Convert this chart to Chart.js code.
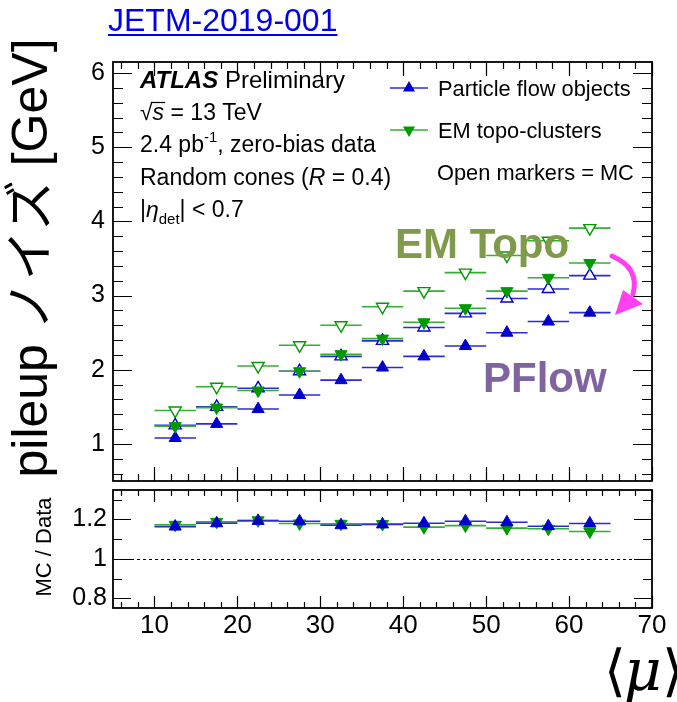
<!DOCTYPE html>
<html>
<head>
<meta charset="utf-8">
<script src="https://cdn.jsdelivr.net/npm/chart.js@4.4.1/dist/chart.umd.min.js"></script>
<style>
  body { margin: 0; background: #fff; }
  #wrap { position: relative; width: 677px; height: 702px; overflow: hidden; }
  canvas { position: absolute; left: 0; }
  #main { top: 0; }
  #ratio { top: 484px; }
</style>
</head>
<body>
<div id="wrap">
  <canvas id="main" width="677" height="484"></canvas>
  <canvas id="ratio" width="677" height="218"></canvas>
</div>
<script>
// <mu> bins
const binCenters = [12.5, 17.5, 22.5, 27.5, 32.5, 37.5, 42.5, 47.5, 52.5, 57.5, 62.5];
const binHalfWidth = 2.5;

// random-cone pileup noise [GeV]
const pflowData = [1.08, 1.27, 1.47, 1.66, 1.86, 2.03, 2.18, 2.32, 2.50, 2.65, 2.77];
const pflowMC   = [1.25, 1.50, 1.75, 1.98, 2.18, 2.39, 2.57, 2.76, 2.96, 3.09, 3.27];
const topoData  = [1.24, 1.49, 1.72, 1.98, 2.21, 2.42, 2.64, 2.83, 3.06, 3.24, 3.44];
const topoMC    = [1.45, 1.77, 2.05, 2.33, 2.60, 2.85, 3.06, 3.31, 3.54, 3.74, 3.91];

// MC / Data
const pflowRatio = [1.164, 1.181, 1.193, 1.191, 1.171, 1.175, 1.181, 1.191, 1.186, 1.166, 1.180];
const topoRatio  = [1.173, 1.188, 1.196, 1.180, 1.178, 1.177, 1.161, 1.169, 1.156, 1.153, 1.139];

const xTicks = [10, 20, 30, 40, 50, 60, 70];
const yTicks = [1, 2, 3, 4, 5, 6];
const ratioTicks = [0.8, 1, 1.2];
const ratioTickLabels = ['0.8', '1', '1.2'];

const SANS = '"Liberation Sans", Arial, Helvetica, sans-serif';
const BLUE = '#0000cc';
const GREEN = '#009a00';
const BLUE_BIN = '#2b2bd6';
const GREEN_BIN = '#33b033';

function points(ys) {
  return binCenters.map(function(x, i) { return { x: x, y: ys[i] }; });
}

function series(label, ys, color, binColor, down, open) {
  return {
    label: label,
    data: points(ys),
    showLine: false,
    pointStyle: 'triangle',
    pointRotation: down ? 180 : 0,
    pointRadius: 7,
    pointHoverRadius: 7,
    pointBackgroundColor: open ? '#ffffff' : color,
    pointBorderColor: color,
    pointBorderWidth: open ? 1.4 : 1,
    binColor: binColor
  };
}

// horizontal bar across each bin
const binLines = {
  id: 'binLines',
  beforeDatasetsDraw(chart) {
    const ctx = chart.ctx;
    const xs = chart.scales.x, ys = chart.scales.y;
    const sets = chart.data.datasets;
    for (let i = sets.length - 1; i >= 0; i--) {
      const ds = sets[i];
      ctx.save();
      ctx.strokeStyle = ds.binColor;
      ctx.lineWidth = 1.6;
      ds.data.forEach(function(p) {
        const y = ys.getPixelForValue(p.y);
        ctx.beginPath();
        ctx.moveTo(xs.getPixelForValue(p.x - binHalfWidth), y);
        ctx.lineTo(xs.getPixelForValue(p.x + binHalfWidth), y);
        ctx.stroke();
      });
      ctx.restore();
    }
  }
};

function isMajor(v, step) {
  return Math.abs(v / step - Math.round(v / step)) < 1e-6;
}

// ROOT style frame with inward ticks on all four sides
const frame = {
  id: 'frame',
  afterDatasetsDraw(chart, args, o) {
    const ctx = chart.ctx, a = chart.chartArea;
    const xs = chart.scales.x, ys = chart.scales.y;
    ctx.save();
    ctx.strokeStyle = '#000';
    ctx.lineWidth = 1.2;
    ctx.beginPath();
    for (let k = Math.ceil(xs.min / o.xMinor - 1e-6); k * o.xMinor <= xs.max + 1e-6; k++) {
      const v = k * o.xMinor;
      const len = isMajor(v, o.xMajor) ? o.xMajorLen : o.xMinorLen;
      const px = Math.round(xs.getPixelForValue(v)) + 0.5;
      ctx.moveTo(px, a.bottom); ctx.lineTo(px, a.bottom - len);
      ctx.moveTo(px, a.top); ctx.lineTo(px, a.top + len);
    }
    for (let k = Math.ceil(ys.min / o.yMinor - 1e-6); k * o.yMinor <= ys.max + 1e-6; k++) {
      const v = k * o.yMinor;
      const len = isMajor(v, o.yMajor) ? o.yMajorLen : o.yMinorLen;
      const py = Math.round(ys.getPixelForValue(v)) + 0.5;
      ctx.moveTo(a.left, py); ctx.lineTo(a.left + len, py);
      ctx.moveTo(a.right, py); ctx.lineTo(a.right - len, py);
    }
    ctx.stroke();
    ctx.lineWidth = 1.8;
    ctx.strokeRect(a.left, a.top, a.right - a.left, a.bottom - a.top);
    ctx.restore();
  }
};

function runs(ctx, x, y, parts) {
  parts.forEach(function(p) {
    ctx.font = p.font;
    ctx.fillText(p.t, x, y + (p.dy || 0));
    x += ctx.measureText(p.t).width;
  });
  return x;
}

function tri(ctx, x, y, r, down, color) {
  const s = down ? -1 : 1;
  ctx.fillStyle = color;
  ctx.beginPath();
  ctx.moveTo(x, y - s * r);
  ctx.lineTo(x + r * 0.866, y + s * r / 2);
  ctx.lineTo(x - r * 0.866, y + s * r / 2);
  ctx.closePath();
  ctx.fill();
}

// labels, legend and notes on the main panel
const mainText = {
  id: 'mainText',
  afterDraw(chart) {
    const ctx = chart.ctx;
    const f23 = '23px ' + SANS, i23 = 'italic 23px ' + SANS, s15 = '15px ' + SANS;
    ctx.save();
    ctx.fillStyle = '#000';
    ctx.textBaseline = 'alphabetic';

    runs(ctx, 140, 88, [{ t: 'ATLAS', font: 'italic bold 24px ' + SANS }, { t: ' Preliminary', font: '24px ' + SANS }]);

    ctx.font = f23;
    ctx.fillText('\u221a', 140, 120);
    const xs = 140 + ctx.measureText('\u221a').width;
    ctx.font = i23;
    const sw = ctx.measureText('s').width;
    ctx.fillText('s', xs, 120);
    ctx.lineWidth = 1.2;
    ctx.beginPath(); ctx.moveTo(xs - 1, 102.5); ctx.lineTo(xs + sw + 1, 102.5); ctx.stroke();
    ctx.font = f23;
    ctx.fillText(' = 13 TeV', xs + sw, 120);

    runs(ctx, 140, 152, [{ t: '2.4 pb', font: f23 }, { t: '-1', font: s15, dy: -10 }, { t: ', zero-bias data', font: f23 }]);
    runs(ctx, 140, 185, [{ t: 'Random cones (', font: f23 }, { t: 'R', font: i23 }, { t: ' = 0.4)', font: f23 }]);
    runs(ctx, 140, 217, [{ t: '|', font: f23 }, { t: '\u03b7', font: i23 }, { t: 'det', font: s15, dy: 7 }, { t: '| < 0.7', font: f23 }]);

    // legend
    const lf = '21.8px ' + SANS;
    ctx.lineWidth = 1.5;
    ctx.strokeStyle = BLUE_BIN;
    ctx.beginPath(); ctx.moveTo(390, 88); ctx.lineTo(428, 88); ctx.stroke();
    tri(ctx, 409, 88, 7, false, BLUE);
    ctx.strokeStyle = GREEN_BIN;
    ctx.beginPath(); ctx.moveTo(390, 130); ctx.lineTo(428, 130); ctx.stroke();
    tri(ctx, 409, 130, 7, true, GREEN);
    ctx.fillStyle = '#000';
    ctx.font = lf;
    ctx.fillText('Particle flow objects', 438, 96);
    ctx.fillText('EM topo-clusters', 438, 138);
    ctx.fillText('Open markers = MC', 437, 180);

    // highlights
    ctx.font = 'bold 42px ' + SANS;
    ctx.fillStyle = '#7e9a4a';
    ctx.fillText('EM Topo', 395, 258);
    ctx.fillStyle = '#8064a2';
    ctx.fillText('PFlow', 483, 392);

    ctx.strokeStyle = '#ff40f0';
    ctx.fillStyle = '#ff40f0';
    ctx.lineWidth = 5;
    ctx.lineCap = 'round';
    ctx.beginPath(); ctx.moveTo(612, 256); ctx.quadraticCurveTo(640, 268, 633, 294); ctx.stroke();
    ctx.beginPath(); ctx.moveTo(615, 315); ctx.lineTo(643, 304); ctx.lineTo(623, 290); ctx.closePath(); ctx.fill();

    // note reference
    ctx.font = '32px ' + SANS;
    ctx.fillStyle = '#0000ee';
    ctx.fillText('JETM-2019-001', 108, 31);
    const jw = ctx.measureText('JETM-2019-001').width;
    ctx.strokeStyle = '#0000ee';
    ctx.lineWidth = 2;
    ctx.lineCap = 'butt';
    ctx.beginPath(); ctx.moveTo(108, 35); ctx.lineTo(108 + jw, 35); ctx.stroke();

    // y title
    ctx.translate(47, 258);
    ctx.rotate(-Math.PI / 2);
    ctx.textAlign = 'center';
    ctx.fillStyle = '#000';
    ctx.font = '50px ' + SANS + ', "Noto Sans CJK JP"';
    ctx.fillText('pileup \u30ce\u30a4\u30ba [GeV]', 0, 0);
    ctx.restore();
  }
};

const ratioText = {
  id: 'ratioText',
  beforeDatasetsDraw(chart) {
    const ctx = chart.ctx, a = chart.chartArea;
    const y1 = Math.round(chart.scales.y.getPixelForValue(1)) + 0.5;
    ctx.save();
    ctx.strokeStyle = '#000';
    ctx.lineWidth = 1;
    ctx.setLineDash([3, 3]);
    ctx.beginPath(); ctx.moveTo(a.left, y1); ctx.lineTo(a.right, y1); ctx.stroke();
    ctx.restore();
  },
  afterDraw(chart) {
    const ctx = chart.ctx;
    ctx.save();
    ctx.fillStyle = '#000';
    ctx.font = '56px "DejaVu Serif", serif';
    ctx.fillText('\u27e8', 604, 206);
    ctx.font = 'italic 58px "DejaVu Serif", serif';
    ctx.fillText('\u03bc', 624, 206);
    ctx.font = '56px "DejaVu Serif", serif';
    ctx.fillText('\u27e9', 662, 206);

    ctx.translate(51, 63);
    ctx.rotate(-Math.PI / 2);
    ctx.textAlign = 'center';
    ctx.font = '22px ' + SANS;
    ctx.fillText('MC / Data', 0, 0);
    ctx.restore();
  }
};

function tickList(values) {
  return function(axis) { axis.ticks = values.map(function(v) { return { value: v }; }); };
}

// keep the plot area exactly where the padding puts it
function fixWidth(w) {
  return function(s) { s.width = w; s.paddingTop = 0; s.paddingBottom = 0; };
}
function fixHeight(h) {
  return function(s) { s.height = h; s.paddingLeft = 0; s.paddingRight = 0; };
}

const common = {
  responsive: false,
  animation: false,
  devicePixelRatio: 1,
  events: [],
  plugins: { legend: { display: false }, tooltip: { enabled: false } }
};

new Chart(document.getElementById('main'), {
  type: 'scatter',
  data: {
    datasets: [
      series('EM topo-clusters', topoData, GREEN, GREEN_BIN, true, false),
      series('Particle flow objects', pflowData, BLUE, BLUE_BIN, false, false),
      series('Particle flow objects MC', pflowMC, BLUE, BLUE_BIN, false, true),
      series('EM topo-clusters MC', topoMC, GREEN, GREEN_BIN, true, true)
    ]
  },
  options: Object.assign({}, common, {
    layout: { autoPadding: false, padding: { left: 0, right: 25, top: 62, bottom: 3 } },
    plugins: Object.assign({}, common.plugins, {
      frame: { xMinor: 2, xMajor: 10, xMajorLen: 14, xMinorLen: 7, yMinor: 0.2, yMajor: 1, yMajorLen: 19, yMinorLen: 10 }
    }),
    scales: {
      x: {
        type: 'linear', min: 5, max: 70,
        afterFit: fixHeight(0),
        grid: { display: false, drawTicks: false },
        border: { display: false },
        ticks: { display: false }
      },
      y: {
        type: 'linear', min: 0.5, max: 6.15,
        afterBuildTicks: tickList(yTicks),
        afterFit: fixWidth(113),
        grid: { display: false, drawTicks: false },
        border: { display: false },
        ticks: { padding: 8, color: '#000', font: { family: SANS, size: 25 } }
      }
    }
  }),
  plugins: [binLines, frame, mainText]
});

new Chart(document.getElementById('ratio'), {
  type: 'scatter',
  data: {
    datasets: [
      series('Particle flow objects', pflowRatio, BLUE, BLUE_BIN, false, false),
      series('EM topo-clusters', topoRatio, GREEN, GREEN_BIN, true, false)
    ]
  },
  options: Object.assign({}, common, {
    layout: { autoPadding: false, padding: { left: 0, right: 25, top: 6, bottom: 0 } },
    plugins: Object.assign({}, common.plugins, {
      frame: { xMinor: 2, xMajor: 10, xMajorLen: 12, xMinorLen: 6, yMinor: 0.1, yMajor: 0.2, yMajorLen: 18, yMinorLen: 9 }
    }),
    scales: {
      x: {
        type: 'linear', min: 5, max: 70,
        afterBuildTicks: tickList(xTicks),
        afterFit: fixHeight(94),
        grid: { display: false, drawTicks: false },
        border: { display: false },
        ticks: { padding: 2, color: '#000', maxRotation: 0, autoSkip: false, font: { family: SANS, size: 26 } }
      },
      y: {
        type: 'linear', min: 0.75, max: 1.35,
        afterBuildTicks: tickList(ratioTicks),
        afterFit: fixWidth(113),
        grid: { display: false, drawTicks: false },
        border: { display: false },
        ticks: {
          padding: 6, color: '#000', font: { family: SANS, size: 25 },
          callback: function(v) { return ratioTickLabels[ratioTicks.indexOf(v)]; }
        }
      }
    }
  }),
  plugins: [binLines, frame, ratioText]
});
</script>
</body>
</html>
